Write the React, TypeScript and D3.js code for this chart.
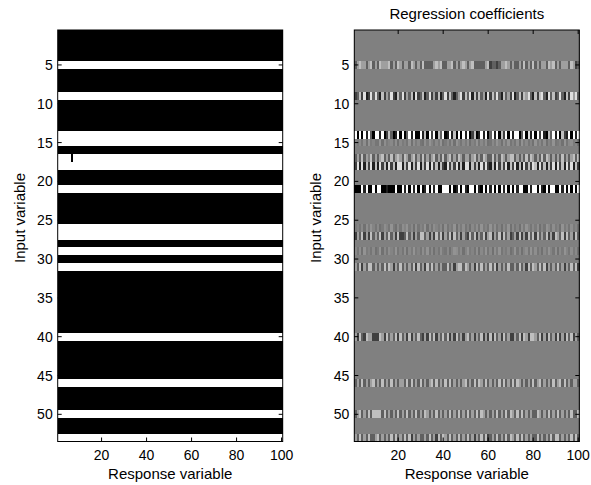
import React from "react";
import * as d3 from "d3";

const N_ROWS = 53;
const N_COLS = 100;

// input variables with non-zero coefficients
const activeRows = [5, 9, 14, 15, 17, 18, 21, 26, 27, 29, 31, 40, 46, 50, 53];
// amplitude of each active row (faint rows are small coefficients)
const rowAmplitude = [1, 1, 1, 0.15, 1, 1, 1, 0.15, 1, 0.15, 1, 1, 1, 1, 1];
// coefficient levels per response variable: 0 = most negative, 4 = zero, 8 = most positive
const rowLevels = [
  "3565535635 3655563536 5355365353 6333356563 3556353565 3563333356 2332355653 5335363536 3535536563 5355536523",
  "2362712737 3162537216 3725361723 6137252613 7263135726 3716263517 2637316352 7136265731 6267317362 3731627573",
  "8080818308 8180263018 0803818008 1608280638 0181608081 8026018180 3818062808 1880380718 0828106381 8062180818",
  "5362718352 2817356271 6352817362 1738526381 3627185263 7153826371 2638517382 5271836251 8362715382 3518267351",
  "3536354635 3563536356 5365356353 6353563536 3563536535 5356353653 3635365356 6353536365 3536365353 5363535636",
  "2717162716 1726172617 7162716271 6271726162 1726271617 7162617272 1617262716 2716172627 6172616271 7261727162",
  "0008180080 8800100080 0818081808 0180818008 8808018081 0880810808 1808081808 0818800818 8081080880 0818080808",
  "3526173852 6137528316 2758361725 3816275361 7253816372 5163728352 8372516381 6251738526 3715286273 5183627351",
  "2536252635 3625363526 2236352536 6352526362 5362635253 2636253625 6253626352 3526252636 2635362526 5362635263",
  "6271835261 3816275382 5271638352 7382615273 2615873615 8352716382 6173825361 3826157283 7251638527 1638527361",
  "5362536635 3536365253 6353536263 5263635353 3635256636 5352636353 6362535363 3536352636 5363625353 6352536362",
  "5263265522 2652635362 6352625363 2526362536 3625263525 6352536252 6263526352 2536265266 5362526352 6252636253",
  "3536353563 5363536353 5536363536 3535636353 6363535356 3536365363 5353636353 6365353536 3563535363 5636353553",
  "3563536366 6636353536 3536353635 3653536353 5363536353 6353636535 3536353636 5363635353 3653536353 6353536336",
  "5363536335 6353536363 5363625353 3536352636 5363536353 6352536362 3536353636 5363635353 3635353636 6353536363",
];

const xTicks = [20, 40, 60, 80, 100];
const yTicks = [5, 10, 15, 20, 25, 30, 35, 40, 45, 50];
const titleText = "Regression coefficients";
const xLabelText = "Response variable";
const yLabelText = "Input variable";

// build coefficient matrix
function buildMatrix(): number[][] {
  const m: number[][] = [];
  for (let r = 0; r < N_ROWS; r++) m.push(new Array(N_COLS).fill(0));
  activeRows.forEach((row, i) => {
    const s = rowLevels[i].replace(/\s+/g, "");
    for (let c = 0; c < N_COLS; c++) {
      const d = Number(s[c]);
      m[row - 1][c] = ((d - 4) / 4) * rowAmplitude[i];
    }
  });
  return m;
}

const W = 591;
const H = 485;
const PANEL_W = 225;
const TOP = 30;
const BOTTOM = 441.5;
const FONT = "'Liberation Sans', Arial, Helvetica, sans-serif";

function Panel({
  x0,
  matrix,
  mode,
  title,
}: {
  x0: number;
  matrix: number[][];
  mode: "support" | "gray";
  title?: string;
}) {
  const xs = d3.scaleLinear().domain([0.5, N_COLS + 0.5]).range([x0, x0 + PANEL_W]);
  const ys = d3.scaleLinear().domain([0.5, N_ROWS + 0.5]).range([TOP, BOTTOM]);
  const grayScale = d3.scaleLinear().domain([-1, 1]).range([0, 255]).clamp(true);
  const cells: React.ReactNode[] = [];
  for (let r = 1; r <= N_ROWS; r++) {
    for (let c = 1; c <= N_COLS; c++) {
      const v = matrix[r - 1][c - 1];
      let fill: string;
      if (mode === "support") fill = v !== 0 ? "#ffffff" : "#000000";
      else {
        const g = Math.round(grayScale(v));
        fill = `rgb(${g},${g},${g})`;
      }
      const xa = xs(c - 0.5);
      const xb = xs(c + 0.5);
      const ya = ys(r - 0.5);
      const yb = ys(r + 0.5);
      cells.push(
        <rect key={`${r}-${c}`} x={xa} y={ya} width={xb - xa + 0.3} height={yb - ya + 0.3} fill={fill} />
      );
    }
  }
  const tl = 4;
  const cx = x0 + PANEL_W / 2;
  const labelY = 218;
  return (
    <g>
      <g shapeRendering="crispEdges">{cells}</g>
      <rect x={x0} y={TOP} width={PANEL_W} height={BOTTOM - TOP} fill="none" stroke="#000" strokeWidth={1} />
      {xTicks.map((t) => (
        <g key={`xt${t}`}>
          <line x1={xs(t)} x2={xs(t)} y1={BOTTOM} y2={BOTTOM - tl} stroke="#000" />
          <line x1={xs(t)} x2={xs(t)} y1={TOP} y2={TOP + tl} stroke="#000" />
          <text x={xs(t)} y={460} textAnchor="middle" fontSize={14} fontFamily={FONT} fill="#000">
            {t}
          </text>
        </g>
      ))}
      {yTicks.map((t) => (
        <g key={`yt${t}`}>
          <line x1={x0} x2={x0 + tl} y1={ys(t)} y2={ys(t)} stroke="#000" />
          <line x1={x0 + PANEL_W} x2={x0 + PANEL_W - tl} y1={ys(t)} y2={ys(t)} stroke="#000" />
          <text x={x0 - 5} y={ys(t) + 5} textAnchor="end" fontSize={14} fontFamily={FONT} fill="#000">
            {t}
          </text>
        </g>
      ))}
      <text x={cx} y={479} textAnchor="middle" fontSize={15} fontFamily={FONT} fill="#000">
        {xLabelText}
      </text>
      <text
        transform={`translate(${x0 - 33},${labelY}) rotate(-90)`}
        textAnchor="middle"
        fontSize={15}
        fontFamily={FONT}
        fill="#000"
      >
        {yLabelText}
      </text>
      {title && (
        <text x={cx} y={18.5} textAnchor="middle" fontSize={15} fontFamily={FONT} fill="#000">
          {title}
        </text>
      )}
    </g>
  );
}

export default function App() {
  const matrix = buildMatrix();
  return (
    <div style={{ position: "absolute", left: 0, top: 0 }}>
      <svg width={W} height={H} viewBox={`0 0 ${W} ${H}`} style={{ display: "block", background: "#fff" }}>
        <rect x={0} y={0} width={W} height={H} fill="#fff" />
        <Panel x0={57.7} matrix={matrix} mode="support" />
        <Panel x0={354.3} matrix={matrix} mode="gray" title={titleText} />
      </svg>
    </div>
  );
}
